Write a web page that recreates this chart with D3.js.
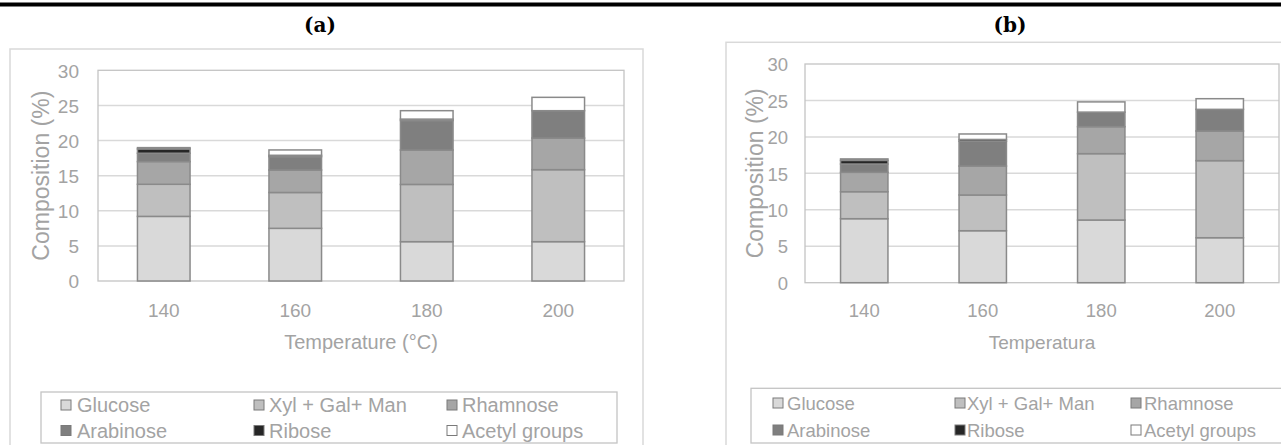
<!DOCTYPE html>
<html>
<head>
<meta charset="utf-8">
<script src="https://cdn.jsdelivr.net/npm/d3@7"></script>
<style>
  html, body { margin: 0; padding: 0; background: #ffffff; }
  svg { display: block; }
  text { font-family: "Liberation Sans", Arial, sans-serif; }
</style>
</head>
<body>
<svg id="chart" width="1281" height="445"></svg>
<script>
// ---------- data ----------
const categories = ["140", "160", "180", "200"];
const seriesNames = ["Glucose", "Xyl + Gal+ Man", "Rhamnose", "Arabinose", "Ribose", "Acetyl groups"];
const seriesColors = ["#d9d9d9", "#bfbfbf", "#a6a6a6", "#7f7f7f", "#262626", "#ffffff"];
const yTicks = [0, 5, 10, 15, 20, 25, 30];

// Panel (a)
const glucoseA  = [9.2, 7.5, 5.6, 5.6];
const xylA      = [4.57, 5.1, 8.15, 10.25];
const rhamnoseA = [3.23, 3.2, 4.9, 4.5];
const arabinoseA= [1.19, 1.9, 4.2, 3.9];
const riboseA   = [0.62, 0.2, 0.2, 0.0];
const acetylA   = [0.18, 0.76, 1.2, 1.9];

// Panel (b)
const glucoseB  = [8.78, 7.13, 8.6, 6.17];
const xylB      = [3.7, 4.9, 9.1, 10.57];
const rhamnoseB = [2.66, 3.97, 3.7, 4.07];
const arabinoseB= [1.14, 3.4, 2.0, 2.97];
const riboseB   = [0.5, 0.25, 0.0, 0.0];
const acetylB   = [0.2, 0.75, 1.4, 1.46];

const xTitleA = "Temperature (°C)";
const xTitleB = "Temperatura";
const yTitle = "Composition (%)";

// ---------- drawing ----------
const svg = d3.select("#chart");
const textColor = "#a3a3a3";

// top black rule
svg.append("rect").attr("x", 0).attr("y", 2.5).attr("width", 1281).attr("height", 4).attr("fill", "#000");

function buildRows(seriesArrays) {
  return categories.map((c, i) => {
    const row = { cat: c };
    seriesNames.forEach((s, j) => { row[s] = seriesArrays[j][i]; });
    return row;
  });
}

function drawPanel(cfg) {
  const g = svg.append("g");

  // title
  svg.append("text")
    .attr("x", cfg.titleX).attr("y", 32)
    .attr("text-anchor", "middle")
    .style("font-family", "'Palatino Linotype','Book Antiqua','DejaVu Serif','Liberation Serif',serif")
    .style("font-weight", "bold")
    .style("font-size", "20px")
    .attr("fill", "#000")
    .text(cfg.title);

  // outer chart frame
  g.append("rect")
    .attr("x", cfg.frame.x).attr("y", cfg.frame.y)
    .attr("width", cfg.frame.w).attr("height", cfg.frame.h)
    .attr("fill", "#fff").attr("stroke", "#d9d9d9").attr("stroke-width", 1.5);

  const x = d3.scaleBand().domain(categories)
    .range([cfg.plot.l, cfg.plot.r]).paddingInner(0.6).paddingOuter(0.3);
  const y = d3.scaleLinear().domain([0, 30]).range([cfg.plot.b, cfg.plot.t]);

  // gridlines
  g.append("g").selectAll("line").data(yTicks.filter(t => t > 0 && t < 30)).join("line")
    .attr("x1", cfg.plot.l).attr("x2", cfg.plot.r)
    .attr("y1", d => y(d)).attr("y2", d => y(d))
    .attr("stroke", "#d9d9d9").attr("stroke-width", 1.5);

  // plot-area border
  g.append("rect")
    .attr("x", cfg.plot.l).attr("y", y(30))
    .attr("width", cfg.plot.r - cfg.plot.l).attr("height", y(0) - y(30))
    .attr("fill", "none").attr("stroke", "#c4c4c4").attr("stroke-width", 1.3);

  // stacked bars
  const rows = buildRows(cfg.series);
  const stacked = d3.stack().keys(seriesNames)(rows);
  g.append("g").selectAll("g").data(stacked).join("g")
    .attr("fill", (d, i) => seriesColors[i])
    .selectAll("rect").data(d => d.filter(p => p[1] - p[0] > 0)).join("rect")
    .attr("x", d => x(d.data.cat))
    .attr("width", x.bandwidth())
    .attr("y", d => y(d[1]))
    .attr("height", d => y(d[0]) - y(d[1]))
    .attr("stroke", "#8a8a8a").attr("stroke-width", 1.5);

  // y axis
  const yAxis = d3.axisLeft(y).tickValues(yTicks).tickSize(0).tickPadding(0).tickFormat(d3.format("d"));
  const ya = g.append("g").attr("transform", `translate(${cfg.yTickRight},0)`).call(yAxis);
  ya.select(".domain").remove();
  ya.selectAll("text").attr("fill", textColor).style("font-size", cfg.tickFont + "px")
    .attr("dy", "0.36em").attr("x", 0);

  // x axis
  const xAxis = d3.axisBottom(x).tickSize(0).tickPadding(0);
  const xa = g.append("g").attr("transform", `translate(0,${cfg.xTickBase})`).call(xAxis);
  xa.select(".domain").remove();
  xa.selectAll("text").attr("fill", textColor).style("font-size", cfg.tickFont + "px")
    .attr("dy", 0).attr("y", 0);

  // axis titles
  g.append("text")
    .attr("x", (cfg.plot.l + cfg.plot.r) / 2).attr("y", cfg.xTitleBase)
    .attr("text-anchor", "middle").attr("fill", textColor)
    .style("font-size", cfg.xTitleFont + "px").text(cfg.xTitle);

  g.append("text")
    .attr("transform", `translate(${cfg.yTitleX},${(cfg.plot.t + cfg.plot.b) / 2}) rotate(-90)`)
    .attr("text-anchor", "middle").attr("dy", "0.36em").attr("fill", textColor)
    .style("font-size", cfg.yTitleFont + "px").text(yTitle);

  // legend
  const L = cfg.legend;
  g.append("rect")
    .attr("x", L.x).attr("y", L.y).attr("width", L.w).attr("height", L.h)
    .attr("fill", "#fff").attr("stroke", "#c4c4c4").attr("stroke-width", 1.3);
  const items = g.append("g").selectAll("g").data(seriesNames).join("g");
  items.append("rect")
    .attr("x", (d, i) => L.swX[i % 3])
    .attr("y", (d, i) => L.rowY[Math.floor(i / 3)] - L.sw / 2)
    .attr("width", L.sw).attr("height", L.sw)
    .attr("fill", (d, i) => seriesColors[i])
    .attr("stroke", "#7a7a7a").attr("stroke-width", 1);
  items.append("text")
    .attr("x", (d, i) => L.txX[i % 3])
    .attr("y", (d, i) => L.rowY[Math.floor(i / 3)])
    .attr("dy", "0.36em").attr("fill", textColor)
    .style("font-size", L.font + "px")
    .text(d => d);
}

drawPanel({
  title: "(a)", titleX: 320,
  frame: { x: 10, y: 49, w: 633, h: 430 },
  plot: { l: 98, r: 624, t: 70.3, b: 281 },
  yTickRight: 79, tickFont: 19, xTickBase: 317,
  xTitle: xTitleA, xTitleBase: 349, xTitleFont: 20,
  yTitleX: 41, yTitleFont: 23,
  series: [glucoseA, xylA, rhamnoseA, arabinoseA, riboseA, acetylA],
  legend: { x: 41, y: 392, w: 576, h: 51, sw: 10, font: 20,
            swX: [61, 254, 447], txX: [77, 269, 462], rowY: [405, 430.5] }
});

drawPanel({
  title: "(b)", titleX: 1010,
  frame: { x: 726, y: 42.3, w: 620, h: 430 },
  plot: { l: 805, r: 1279, t: 64, b: 282.7 },
  yTickRight: 788, tickFont: 18.5, xTickBase: 317,
  xTitle: xTitleB, xTitleBase: 349, xTitleFont: 19,
  yTitleX: 754.5, yTitleFont: 23,
  series: [glucoseB, xylB, rhamnoseB, arabinoseB, riboseB, acetylB],
  legend: { x: 751, y: 388.3, w: 600, h: 54.7, sw: 10, font: 18.5,
            swX: [773, 955, 1131], txX: [787, 967, 1144], rowY: [403, 430] }
});
</script>
</body>
</html>
